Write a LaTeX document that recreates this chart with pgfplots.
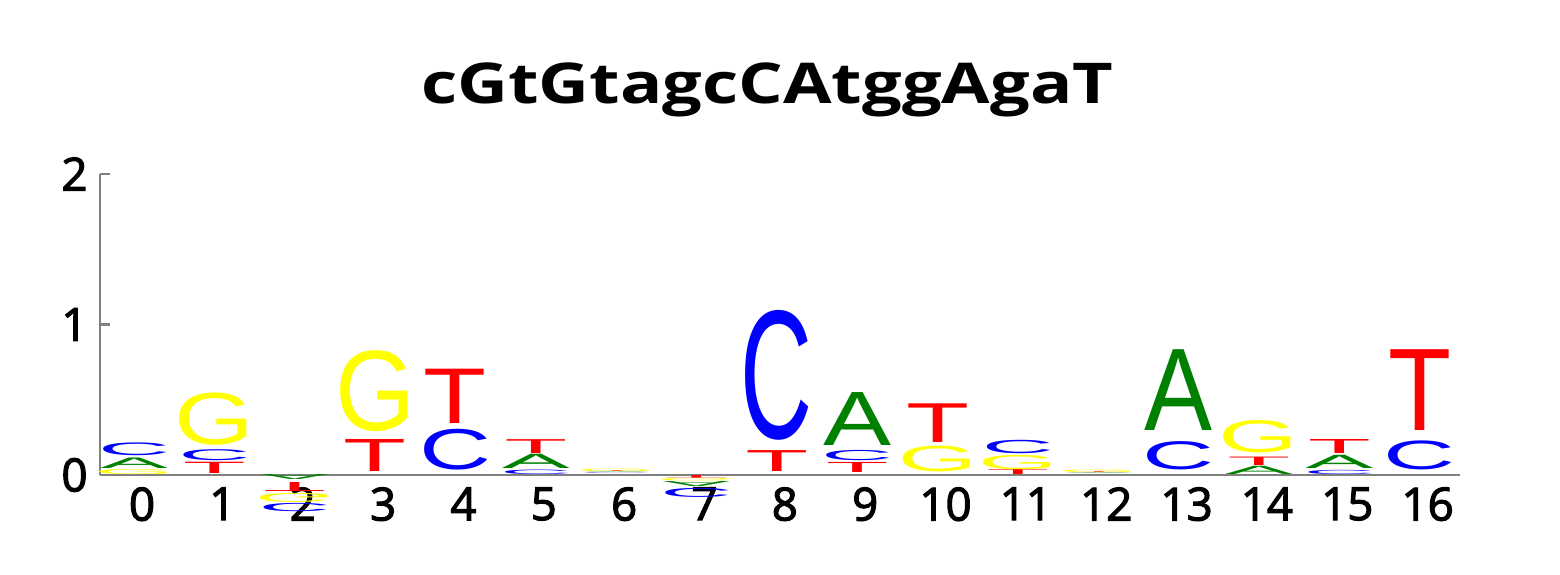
\documentclass[border=0pt]{standalone}
\usepackage{fontspec}
\setmainfont{Open Sans}
\newfontfamily\logofont{Liberation Sans}
\newfontfamily\titlefont{Open Sans}[FakeStretch=1.25]
\newfontfamily\tickfont{Open Sans}[FakeBold=2.5]
\usepackage{graphicx}
\usepackage{pgfplots}
\pgfplotsset{compat=1.18}
\usepackage{pgfplotstable}

% one colour per base
\definecolor{lgA}{RGB}{0,128,0}
\definecolor{lgC}{RGB}{0,0,255}
\definecolor{lgG}{RGB}{255,255,0}
\definecolor{lgT}{RGB}{255,0,0}
% box width of each letter (advance width, so the ink is a bit narrower)
\def\lwA{0.68cm}
\def\lwC{0.72cm}
\def\lwG{0.80cm}
\def\lwT{0.63cm}
\pgfdeclareplotmark{empty}{}

% x = position, y = where the letter starts, h = signed height (bits)
\pgfplotstableread{
x  y      h       L
0  0.003  0.034   G
0  0.040  0.070   A
0  0.126  0.085   C
1  0.007  0.075   T
1  0.093  0.073   C
1  0.200  0.347   G
2  0.000  -0.033  A
2  -0.050 -0.060  T
2  -0.120 -0.060  G
2  -0.190 -0.055  C
3  0.020  0.213   T
3  0.288  0.538   G
4  0.033  0.271   C
4  0.343  0.361   T
5  0.005  0.030   C
5  0.045  0.095   A
5  0.145  0.092   T
6  0.002  0.004   C
6  0.007  0.005   A
6  0.013  0.005   T
6  0.018  0.016   G
7  0.000  -0.018  T
7  -0.022 -0.016  G
7  -0.045 -0.033  A
7  -0.088 -0.060  C
8  0.022  0.139   T
8  0.233  0.863   C
9  0.015  0.067   T
9  0.093  0.068   C
9  0.195  0.352   A
10 0.022  0.171   G
10 0.215  0.257   T
11 0.005  0.033   T
11 0.038  0.095   G
11 0.144  0.089   C
12 0.003  0.006   A
12 0.010  0.005   T
12 0.016  0.017   G
13 0.033  0.188   C
13 0.294  0.537   A
14 0.005  0.055   A
14 0.066  0.056   T
14 0.144  0.215   G
15 0.005  0.028   C
15 0.045  0.088   A
15 0.144  0.093   T
16 0.033  0.193   C
16 0.294  0.537   T
}\logodata

\begin{document}
\begin{tikzpicture}
\useasboundingbox (0,0) rectangle (15.6,5.75);
\begin{axis}[
  at={(1.0cm,1.0cm)}, anchor=south west,
  x=0.8035cm, y=1.505cm,
  xmin=-0.523, xmax=16.4, ymin=0, ymax=2,
  clip=false,
  axis x line=bottom, axis y line=left,
  axis line style={gray, line width=0.6pt, -},
  xtick={0,...,16}, ytick={0,1,2},
  xtick style={draw=none},
  ytick style={gray, line width=0.6pt},
  tick align=inside, major tick length=0.1cm,
  ticklabel style={font=\tickfont\fontsize{13}{15}\selectfont},
  /pgf/number format/assume math mode=true,
  title={cGtGtagcCAtggAgaT},
  title style={font=\titlefont\fontsize{16}{19}\selectfont\bfseries,
    at={(0.5,1)}, anchor=base, yshift=0.49cm, xshift=-0.125cm},
]
\addplot[scatter, only marks, mark=empty, point meta=explicit symbolic,
  visualization depends on={\thisrow{h}\as\hh},
  scatter/@pre marker code/.code={%
    \pgfmathsetlengthmacro\lh{abs(\hh)*1.505cm}%
    \pgfmathsetmacro\sg{\hh<0 ? -1 : 1}%
    \node[anchor=south, inner sep=0pt, outer sep=0pt, xshift=-0.08cm,
      yscale=\sg, text=lg\pgfplotspointmeta]
      {\resizebox*{\csname lw\pgfplotspointmeta\endcsname}{\lh}{\logofont\pgfplotspointmeta}};%
  },
  scatter/@post marker code/.code={}]
  table[x=x, y=y, meta=L] {\logodata};
\end{axis}
\end{tikzpicture}
\end{document}
